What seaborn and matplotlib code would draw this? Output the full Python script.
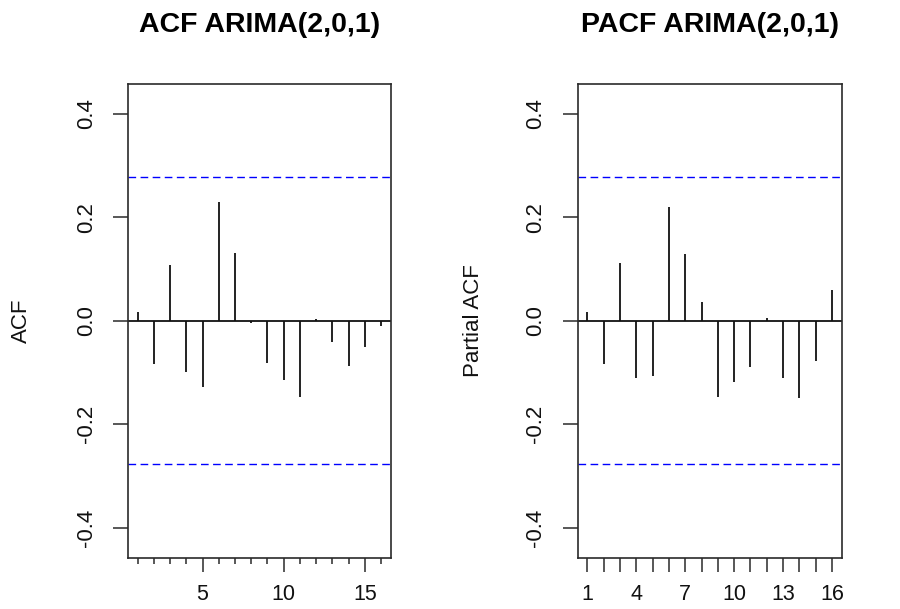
import matplotlib
matplotlib.use("Agg")
import matplotlib.pyplot as plt
from matplotlib import font_manager
from matplotlib.ticker import FixedLocator, FixedFormatter
import numpy as np
import pandas as pd
import seaborn as sns

# Residual correlogram of the ARIMA(2,0,1) fit
lags = list(range(1, 17))
acf_vals = [0.017, -0.083, 0.107, -0.098, -0.127, 0.230, 0.131, -0.004,
            -0.081, -0.114, -0.147, 0.003, -0.042, -0.087, -0.051, -0.010]
pacf_vals = [0.017, -0.083, 0.112, -0.111, -0.106, 0.219, 0.129, 0.037,
             -0.147, -0.119, -0.089, 0.006, -0.111, -0.150, -0.078, 0.060]
conf_bound = 0.277

titles = ["ACF ARIMA(2,0,1)", "PACF ARIMA(2,0,1)"]
ylabels = ["ACF", "Partial ACF"]
ytick_vals = [-0.4, -0.2, 0.0, 0.2, 0.4]
ytick_labels = ["-0.4", "-0.2", "0.0", "0.2", "0.4"]
acf_xlabels = [5, 10, 15]
pacf_xlabels = [1, 4, 7, 10, 13, 16]

sns.set_theme(style="white")
plt.rcParams["font.family"] = ["Liberation Sans", "DejaVu Sans"]

installed = {f.name for f in font_manager.fontManager.ttflist}
if "Liberation Sans Narrow" in installed:
    side_font = dict(family=["Liberation Sans Narrow", "DejaVu Sans"], size=20)
else:
    side_font = dict(family=["Liberation Sans", "DejaVu Sans"], size=16)

df = pd.DataFrame({"lag": lags, "ACF": acf_vals, "PACF": pacf_vals})

W, H = 900, 609
fig = plt.figure(figsize=(W / 100, H / 100), dpi=100)
fig.patch.set_facecolor("white")

box_top, box_bottom = 84, 558
panels = [(128, 390.7), (577.7, 841.7)]
line_col = "#111111"
spine_col = "#2a2a2a"

for i, (col, (x0, x1)) in enumerate(zip(["ACF", "PACF"], panels)):
    ax = fig.add_axes([x0 / W, 1 - box_bottom / H, (x1 - x0) / W,
                       (box_bottom - box_top) / H])
    ax.set_facecolor("white")
    ax.vlines(df["lag"], 0, df[col], color=line_col, linewidth=1.3)
    ax.axhline(0, color=line_col, linewidth=1.3)
    for b in (conf_bound, -conf_bound):
        ax.axhline(b, color="blue", linewidth=1.0, linestyle=(0, (5.5, 3.2)))
    ax.set_xlim(0.4, 16.6)
    ax.set_ylim(-0.458, 0.457)

    for s in ax.spines.values():
        s.set_visible(True)
        s.set_color(spine_col)
        s.set_linewidth(1.2)

    ax.yaxis.set_major_locator(FixedLocator(ytick_vals))
    ax.set_yticklabels(ytick_labels, rotation=90, va="center", **side_font)
    ax.tick_params(axis="y", which="major", length=10.5, width=1.1,
                   color=spine_col, pad=12, left=True)

    if col == "ACF":
        ax.xaxis.set_major_locator(FixedLocator(acf_xlabels))
        ax.xaxis.set_major_formatter(FixedFormatter([str(v) for v in acf_xlabels]))
        ax.xaxis.set_minor_locator(FixedLocator([l for l in lags if l not in acf_xlabels]))
        ax.tick_params(axis="x", which="minor", length=4, width=1.1,
                       color=spine_col, bottom=True)
    else:
        ax.xaxis.set_major_locator(FixedLocator(lags))
        ax.xaxis.set_major_formatter(FixedFormatter(
            [str(l) if l in pacf_xlabels else "" for l in lags]))
    ax.tick_params(axis="x", which="major", length=10, width=1.1,
                   color=spine_col, pad=9, bottom=True, labelsize=15.5,
                   labelcolor="#111111")
    ax.tick_params(axis="y", labelcolor="#111111")
    ax.set_xlabel("")
    ax.set_ylabel("")

    cx = (x0 + x1) / 2
    fig.text(cx / W, 1 - 32 / H, titles[i], ha="center", va="baseline",
             fontsize=20.5, fontweight="bold", color="black")
    lx = 21 if i == 0 else 474
    fig.text(lx / W, 1 - 321 / H, ylabels[i], ha="center", va="center",
             rotation=90, color="#111111", **side_font)

fig.savefig("out.png", dpi=100, facecolor="white")
